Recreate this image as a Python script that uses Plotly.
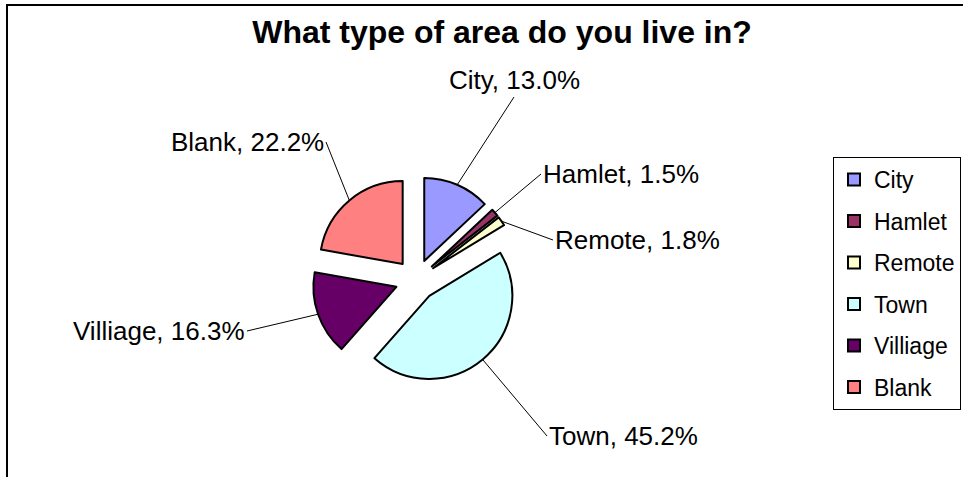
import numpy as np
import plotly.graph_objects as go

# ---- data ----
categories = ["City", "Hamlet", "Remote", "Town", "Villiage", "Blank"]
percentages = [13.0, 1.5, 1.8, 45.2, 16.3, 22.2]
colors = ["#9999FF", "#993366", "#FFFFCC", "#CCFFFF", "#660066", "#FF8080"]
title_text = "What type of area do you live in?"

# ---- layout (pixels) ----
W, H = 963, 477
PIE_CX, PIE_CY, PIE_R = 416, 280, 83
PULL = 0.25
FONT = "Arial, Liberation Sans, sans-serif"
LABEL_SIZE = 26
LEGEND_SIZE = 23
# label tail anchors (pixels) and anchors
label_pos = {
    "City": (514, 97, "center", "bottom"),
    "Hamlet": (541, 174, "left", "middle"),
    "Remote": (553, 240, "left", "middle"),
    "Town": (547, 436, "left", "middle"),
    "Villiage": (247, 331, "right", "middle"),
    "Blank": (326, 142, "right", "middle"),
}

def px(x):
    return x / W

def py(y):
    return 1 - y / H

half = PIE_R * (1 + PULL)
fig = go.Figure()
fig.add_trace(go.Pie(
    labels=categories, values=percentages, sort=False, direction="clockwise",
    rotation=0, pull=[PULL] * len(categories), textinfo="none",
    marker=dict(colors=colors, line=dict(color="black", width=2)),
    domain=dict(x=[px(PIE_CX - half), px(PIE_CX + half)],
                y=[py(PIE_CY + half), py(PIE_CY - half)]),
    showlegend=False, hole=0,
))

# legend entries via grouped dummy traces so spacing can be controlled
for c, col in zip(categories, colors):
    fig.add_trace(go.Scatter(
        x=[None], y=[None], mode="markers", name=c, legendgroup=c,
        marker=dict(symbol="square", size=12, color=col,
                    line=dict(color="black", width=1.5)),
    ))

# leader-line annotations anchored on slice outer edges (computed from values)
vals = np.array(percentages, dtype=float)
frac = vals / vals.sum()
ends = np.cumsum(frac)
mids = ends - frac / 2
annotations = []
for c, v, m in zip(categories, percentages, mids):
    ang = 2 * np.pi * m
    rr = PIE_R * (1 + PULL)
    hx = PIE_CX + rr * np.sin(ang)
    hy = PIE_CY - rr * np.cos(ang)
    tx, ty, xa, ya = label_pos[c]
    annotations.append(dict(
        x=px(hx), y=py(hy), xref="paper", yref="paper",
        ax=tx - hx, ay=ty - hy, axref="pixel", ayref="pixel",
        text=f"{c}, {v:.1f}%", showarrow=True, arrowhead=0, arrowwidth=1,
        arrowcolor="black", standoff=0, xanchor=xa, yanchor=ya,
        font=dict(family=FONT, size=LABEL_SIZE, color="black"),
    ))

fig.update_layout(
    width=W, height=H, margin=dict(l=0, r=0, t=0, b=0),
    paper_bgcolor="white", plot_bgcolor="white",
    title=dict(text=title_text, x=px(502), xanchor="center", y=py(32), yanchor="middle",
               font=dict(family=FONT, size=32, color="black", weight="bold")),
    xaxis=dict(visible=False), yaxis=dict(visible=False),
    legend=dict(x=px(833), xanchor="left", y=py(157), yanchor="top",
                bordercolor="black", borderwidth=1, bgcolor="white",
                font=dict(family=FONT, size=LEGEND_SIZE, color="black"),
                tracegroupgap=8.6, itemsizing="constant"),
    annotations=annotations,
    shapes=[dict(type="rect", xref="paper", yref="paper",
                 x0=px(7), y0=py(5), x1=1.05, y1=-0.05,
                 line=dict(color="black", width=2), fillcolor="rgba(0,0,0,0)")],
)

fig.write_html("out.html", config={"displayModeBar": False},
               post_script="document.body.style.margin='0';")
